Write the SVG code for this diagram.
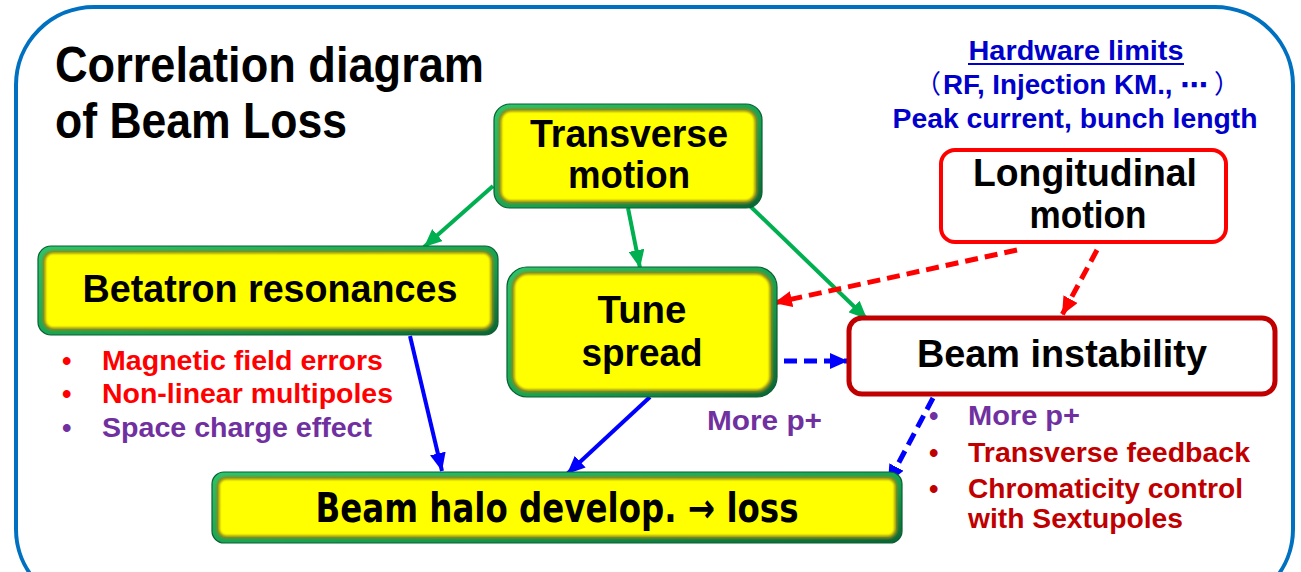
<svg xmlns="http://www.w3.org/2000/svg" width="1301" height="572" viewBox="0 0 1301 572">
<style>
.t{font-family:"Liberation Sans","Noto Sans",Arial,sans-serif;font-weight:bold}
.node{fill:#000;font-size:39px;text-anchor:middle}
.b{font-size:27px}
.red{fill:#FF0000}
.dred{fill:#C00000}
.pur{fill:#7030A0}
.blu{fill:#0000CC}
.cjk{font-family:"Noto Sans CJK JP",sans-serif;font-weight:normal;font-size:26px}
.gout{fill:url(#gb);stroke:#0A5E30;stroke-width:1.2}
.gin{fill:#FFFF00}
.gedge{fill:none;stroke:#8E8A1C;stroke-width:3;filter:url(#soft)}
.cg{stroke:#00B050;stroke-width:4;fill:none;marker-end:url(#ag)}
.cr{stroke:#FF0000;stroke-width:5;fill:none;stroke-dasharray:13 7;marker-end:url(#ar)}
.cb{stroke:#0000FF;stroke-width:4;fill:none;marker-end:url(#ab)}
.cbd{stroke:#0000FF;stroke-width:5;fill:none;stroke-dasharray:13 7;marker-end:url(#ab)}
</style>
<defs>
<linearGradient id="gb" x1="0" y1="0" x2="1" y2="1">
<stop offset="0" stop-color="#2CC46C"/>
<stop offset="0.6" stop-color="#15A050"/>
<stop offset="1" stop-color="#0B6434"/>
</linearGradient>
<filter id="soft" x="-5%" y="-5%" width="110%" height="110%"><feGaussianBlur stdDeviation="1.3"/></filter>
<marker id="ag" markerUnits="userSpaceOnUse" markerWidth="18" markerHeight="16" refX="18" refY="8" orient="auto"><path d="M0,0 L18,8 L0,16 z" fill="#00B050"/></marker>
<marker id="ar" markerUnits="userSpaceOnUse" markerWidth="18" markerHeight="16" refX="18" refY="8" orient="auto"><path d="M0,0 L18,8 L0,16 z" fill="#FF0000"/></marker>
<marker id="ab" markerUnits="userSpaceOnUse" markerWidth="18" markerHeight="16" refX="18" refY="8" orient="auto"><path d="M0,0 L18,8 L0,16 z" fill="#0000FF"/></marker>
</defs>
<rect width="1301" height="572" fill="#FFFFFF"/>
<rect x="16" y="7" width="1277" height="600" rx="78" fill="none" stroke="#0070C0" stroke-width="4"/>

<g id="title">
<text class="t" x="55" y="82" font-size="50" textLength="429" lengthAdjust="spacingAndGlyphs">Correlation diagram</text>
<text class="t" x="55" y="138" font-size="50" textLength="292" lengthAdjust="spacingAndGlyphs">of Beam Loss</text>
</g>

<g id="hardware">
<text class="t blu" x="1076" y="60" font-size="27" text-anchor="middle" textLength="215" lengthAdjust="spacingAndGlyphs">Hardware limits</text>
<line x1="968" y1="64" x2="1184" y2="64" stroke="#0000CC" stroke-width="2"/>
<text class="cjk blu" x="941" y="93" text-anchor="end">（</text>
<text class="blu" x="943" y="94" font-size="27" font-weight="bold" font-family="'Liberation Sans','DejaVu Sans',sans-serif" textLength="265" lengthAdjust="spacingAndGlyphs">RF, Injection KM., ⋯</text>
<text class="cjk blu" x="1214" y="93">）</text>
<text class="t blu" x="1075" y="128" font-size="27" text-anchor="middle" textLength="365" lengthAdjust="spacingAndGlyphs">Peak current, bunch length</text>
</g>

<g id="connectors">
<path class="cg" d="M493,186 L424,247"/>
<path class="cg" d="M628,208 L640,268"/>
<path class="cg" d="M750,206 L867,319"/>
<path class="cr" d="M1017,250 L774,303"/>
<path class="cr" d="M1097,250 L1062,315"/>
<path class="cbd" d="M784,361 L848,361"/>
<path class="cbd" d="M933,398 L888,483"/>
<path class="cb" d="M410,336 L442,471"/>
<path class="cb" d="M650,397 L567,474"/>
</g>

<g id="transverse">
<rect class="gout" x="494" y="104" width="268" height="104" rx="16"/>
<rect class="gin" x="500" y="110" width="256" height="92" rx="11"/>
<rect class="gedge" x="500" y="110" width="256" height="92" rx="11"/>
<text class="t node" x="629" y="147" textLength="198" lengthAdjust="spacingAndGlyphs">Transverse</text>
<text class="t node" x="629" y="188" textLength="122" lengthAdjust="spacingAndGlyphs">motion</text>
</g>

<g id="betatron">
<rect class="gout" x="38" y="246" width="460" height="89" rx="13"/>
<rect class="gin" x="44" y="252" width="448" height="77" rx="9"/>
<rect class="gedge" x="44" y="252" width="448" height="77" rx="9"/>
<text class="t node" x="270" y="302" textLength="375" lengthAdjust="spacingAndGlyphs">Betatron resonances</text>
</g>

<g id="tune">
<rect class="gout" x="507" y="267" width="270" height="130" rx="20"/>
<rect class="gin" x="513" y="273" width="258" height="118" rx="15"/>
<rect class="gedge" x="513" y="273" width="258" height="118" rx="15"/>
<text class="t node" x="642" y="323" textLength="89" lengthAdjust="spacingAndGlyphs">Tune</text>
<text class="t node" x="642" y="366" textLength="121" lengthAdjust="spacingAndGlyphs">spread</text>
</g>

<g id="halo">
<rect class="gout" x="212" y="472" width="690" height="71" rx="12"/>
<rect class="gin" x="218" y="478" width="678" height="59" rx="8"/>
<rect class="gedge" x="218" y="478" width="678" height="59" rx="8"/>
<text x="557" y="522" font-family="'DejaVu Sans',sans-serif" font-weight="bold" font-size="40" fill="#000" text-anchor="middle" textLength="483" lengthAdjust="spacingAndGlyphs">Beam halo develop. → loss</text>
</g>

<g id="longitudinal">
<rect x="941" y="150" width="285" height="92" rx="14" fill="#FFFFFF" stroke="#FF0000" stroke-width="4"/>
<text class="t node" x="1085" y="186" textLength="224" lengthAdjust="spacingAndGlyphs">Longitudinal</text>
<text class="t node" x="1088" y="228" textLength="117" lengthAdjust="spacingAndGlyphs">motion</text>
</g>

<g id="instability">
<rect x="849" y="318" width="426" height="76" rx="13" fill="#FFFFFF" stroke="#C00000" stroke-width="5"/>
<text class="t node" x="1062" y="367" textLength="290" lengthAdjust="spacingAndGlyphs">Beam instability</text>
</g>

<g id="left-notes">
<text class="t b red" x="62" y="370" font-size="20">•</text>
<text class="t b red" x="102" y="370" textLength="281" lengthAdjust="spacingAndGlyphs">Magnetic field errors</text>
<text class="t b red" x="62" y="403" font-size="20">•</text>
<text class="t b red" x="102" y="403" textLength="291" lengthAdjust="spacingAndGlyphs">Non-linear multipoles</text>
<text class="t b pur" x="62" y="437" font-size="20">•</text>
<text class="t b pur" x="102" y="437" textLength="270" lengthAdjust="spacingAndGlyphs">Space charge effect</text>
</g>

<g id="more-mid">
<text class="t b pur" x="707" y="430" textLength="115" lengthAdjust="spacingAndGlyphs">More p+</text>
</g>

<g id="right-notes">
<text class="t b pur" x="929" y="425" font-size="20">•</text>
<text class="t b pur" x="968" y="425" textLength="112" lengthAdjust="spacingAndGlyphs">More p+</text>
<text class="t b dred" x="929" y="462" font-size="20">•</text>
<text class="t b dred" x="968" y="462" textLength="282" lengthAdjust="spacingAndGlyphs">Transverse feedback</text>
<text class="t b dred" x="929" y="498" font-size="20">•</text>
<text class="t b dred" x="968" y="498" textLength="275" lengthAdjust="spacingAndGlyphs">Chromaticity control</text>
<text class="t b dred" x="968" y="528" textLength="215" lengthAdjust="spacingAndGlyphs">with Sextupoles</text>
</g>
</svg>
